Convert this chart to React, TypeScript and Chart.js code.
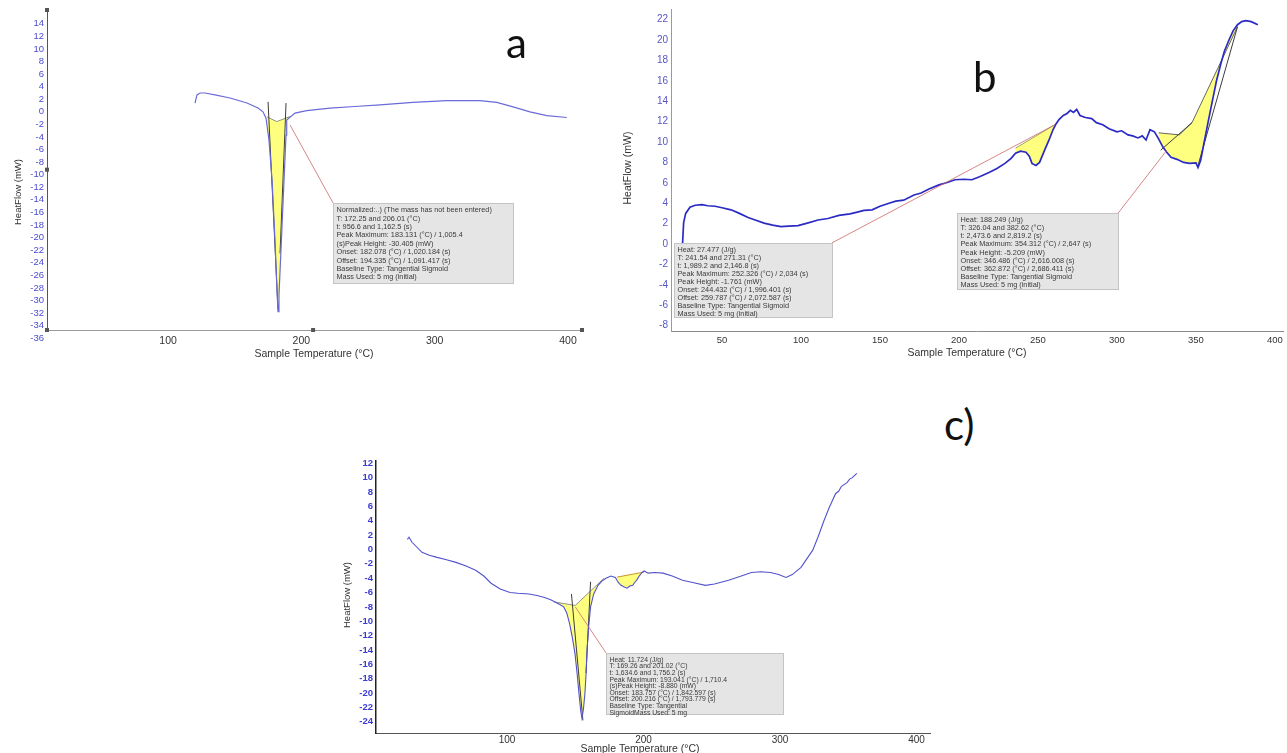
import React, { useEffect, useRef } from "react";
import { Chart, registerables } from "chart.js";

Chart.register(...registerables);

const SANS = "'Liberation Sans', Arial, sans-serif";
type Pt = [number, number];

/* ---------- a: single sharp melting endotherm ---------- */
const aTemp = [120.2, 121.7, 124, 127.7, 135.2, 146.5, 159.2, 167.5, 171.2, 173.5, 175.7, 178, 180.2, 181.7, 182.5, 183.2, 184.7, 187, 188.5, 189, 195.2, 204, 221.5, 240, 259, 283.8, 309, 334, 346.6, 358.8, 371.5, 384.1, 399.1];
const aFlow = [1.4, 2.7, 3.0, 3.0, 2.7, 2.2, 1.4, 0.6, 0.0, -1.0, -4.5, -10.8, -20.4, -28.4, -31.8, -29.2, -22.0, -10.8, -3.7, -1.3, -0.2, 0.2, 0.6, 0.85, 1.1, 1.5, 1.8, 1.8, 1.5, 0.8, 0.0, -0.6, -0.9];
const aPeakBase: Pt[] = [[174.3, -0.8], [181.5, -1.55], [191.5, -0.75]];
const aTangents: Pt[][] = [
  [[175, 1.6], [182.5, -31.5]],
  [[188.5, 1.4], [184, -22.5]],
];
const aXTicks = [100, 200, 300, 400];
const aYTicks = [14, 12, 10, 8, 6, 4, 2, 0, -2, -4, -6, -8, -10, -12, -14, -16, -18, -20, -22, -24, -26, -28, -30, -32, -34, -36];
const aNote = [
  "Normalized:..) (The mass has not been entered)",
  "T: 172.25 and 206.01 (°C)",
  "t: 956.6 and 1,162.5 (s)",
  "Peak Maximum: 183.131 (°C) / 1,005.4",
  "(s)Peak Height: -30.405 (mW)",
  "Onset: 182.078 (°C) / 1,020.184 (s)",
  "Offset: 194.335 (°C) / 1,091.417 (s)",
  "Baseline Type: Tangential Sigmoid",
  "Mass Used: 5 mg (initial)",
];

/* ---------- b: two events, 241-271 and 326-383 °C ---------- */
const bTemp = [25, 25.7, 27, 29.7, 33, 37.3, 41, 45.6, 50, 55.7, 61, 66.5, 71, 76.6, 82, 87.3, 92, 98.1, 104, 110.8, 117, 124, 131, 135, 139.9, 145, 150, 155.7, 160, 165, 171.5, 176, 181, 187.3, 192, 197.5, 203, 208.2, 213, 219, 224, 229.1, 233, 235.8, 239, 242.4, 244.5, 246.2, 248.7, 251, 254.2, 257, 259.5, 261.5, 263.3, 266, 268.4, 270.5, 272.5, 274.5, 276.6, 280, 284, 287, 291, 295, 300, 303, 307, 310, 313.3, 316, 318.4, 320.9, 323.7, 326, 329.1, 331.5, 334.2, 338, 342.2, 346, 350, 351.3, 353, 355.1, 357.5, 360.5, 363, 365.8, 368, 370.9, 373.5, 376.3, 379, 381.6, 385, 389.2];
const bFlow = [0, 2.1, 3.0, 3.6, 3.8, 3.85, 3.75, 3.7, 3.55, 3.35, 3.0, 2.6, 2.35, 2.05, 1.85, 1.7, 1.75, 1.8, 2.05, 2.35, 2.5, 2.8, 2.95, 3.1, 3.3, 3.35, 3.7, 4.0, 4.2, 4.3, 4.8, 5.0, 5.4, 5.8, 6.0, 6.3, 6.35, 6.3, 6.6, 7.0, 7.4, 7.9, 8.4, 8.9, 9.1, 9.0, 8.6, 7.9, 7.7, 8.0, 9.2, 10.2, 11.2, 11.8, 12.2, 12.6, 12.8, 13.1, 12.9, 13.2, 12.6, 12.4, 12.3, 11.9, 11.7, 11.3, 11.0, 11.1, 10.7, 10.6, 10.4, 10.6, 10.2, 11.2, 11.0, 10.4, 9.5, 9.0, 8.5, 8.3, 8.0, 7.9, 7.95, 7.5, 8.2, 9.9, 11.8, 14.1, 16.0, 17.7, 18.9, 20.0, 20.9, 21.5, 21.8, 21.9, 21.8, 21.5];
const bFirstBase: Pt[] = [[235.8, 9.4], [260.8, 11.7]];
const bSecondBase: Pt[] = [[326.4, 10.9], [339.5, 10.7], [347.5, 11.9], [376.3, 21.3]];
const bTangents: Pt[][] = [
  [[327.7, 9.2], [347.5, 11.9]],
  [[351.3, 7.7], [376.3, 21.3]],
];
const bXTicks = [50, 100, 150, 200, 250, 300, 350, 400];
const bYTicks = [22, 20, 18, 16, 14, 12, 10, 8, 6, 4, 2, 0, -2, -4, -6, -8];
const bNoteFirst = [
  "Heat: 27.477 (J/g)",
  "T: 241.54 and 271.31 (°C)",
  "t: 1,989.2 and 2,146.8 (s)",
  "Peak Maximum: 252.326 (°C) / 2,034 (s)",
  "Peak Height: -1.761 (mW)",
  "Onset: 244.432 (°C) / 1,996.401 (s)",
  "Offset: 259.787 (°C) / 2,072.587 (s)",
  "Baseline Type: Tangential Sigmoid",
  "Mass Used: 5 mg (initial)",
];
const bNoteSecond = [
  "Heat: 188.249 (J/g)",
  "T: 326.04 and 382.62 (°C)",
  "t: 2,473.6 and 2,819.2 (s)",
  "Peak Maximum: 354.312 (°C) / 2,647 (s)",
  "Peak Height: -5.209 (mW)",
  "Onset: 346.486 (°C) / 2,616.008 (s)",
  "Offset: 362.872 (°C) / 2,686.411 (s)",
  "Baseline Type: Tangential Sigmoid",
  "Mass Used: 5 mg (initial)",
];

/* ---------- c: endotherm near 155 °C, rise above 315 °C ---------- */
const cTemp = [27, 28.2, 30.4, 37.7, 43, 48.7, 55, 62.6, 70, 77, 83, 88.3, 95, 102.2, 108, 116.1, 122, 127.5, 132, 135.9, 139, 141.5, 143.7, 145.8, 147.8, 149.8, 151.3, 152.7, 154, 154.9, 156, 157.1, 158, 158.6, 159.8, 161.2, 163.5, 166.7, 169.5, 172.5, 176, 179.4, 181.5, 183.5, 185.5, 187.9, 190, 192.1, 193.5, 194.9, 196.5, 198.9, 200.5, 203.3, 208, 214.3, 221, 228.6, 236, 245.4, 252, 262.3, 270, 279.1, 286, 293.1, 299, 304.4, 309, 315.4, 320, 324, 328, 332.2, 336, 340.8, 343, 345, 349.1, 351, 353, 356.3];
const cFlow = [1.4, 1.7, 1.0, -0.4, -0.8, -1.1, -1.4, -1.8, -2.3, -2.9, -3.7, -4.7, -5.5, -6.0, -6.1, -6.2, -6.4, -6.7, -7.0, -7.4, -7.7, -8.0, -8.8, -10.3, -12.2, -14.5, -17.2, -20, -22.5, -23.5, -22.2, -20, -17, -14, -10.8, -8, -6.2, -5.0, -4.4, -4.0, -3.7, -3.9, -4.6, -5.0, -5.2, -5.4, -5.1, -5.0, -4.6, -4.3, -3.8, -3.2, -3.0, -3.3, -3.2, -3.3, -3.7, -4.3, -4.6, -5.0, -4.8, -4.3, -3.8, -3.2, -3.1, -3.2, -3.5, -3.9, -3.5, -2.5, -1.2, -0.1, 1.8, 4.0, 5.8, 7.8, 8.1, 8.8, 9.3, 9.8, 10.0, 10.6];
const cPeakBase: Pt[] = [[134.4, -7.3], [150, -7.8], [171.1, -4.0]];
const cSmallBase: Pt[] = [[180.6, -3.85], [200.5, -3.15]];
const cTangents: Pt[][] = [
  [[147.2, -6.2], [155.6, -23.8]],
  [[161.2, -4.5], [157.9, -17.2]],
];
const cXTicks = [100, 200, 300, 400];
const cYTicks = [12, 10, 8, 6, 4, 2, 0, -2, -4, -6, -8, -10, -12, -14, -16, -18, -20, -22, -24];
const cNote = [
  "Heat: 11.724 (J/g)",
  "T: 169.26 and 201.02 (°C)",
  "t: 1,634.6 and 1,756.2 (s)",
  "Peak Maximum: 193.041 (°C) / 1,710.4",
  "(s)Peak Height: -8.880 (mW)",
  "Onset: 183.757 (°C) / 1,842.597 (s)",
  "Offset: 200.216 (°C) / 1,793.779 (s)",
  "Baseline Type: Tangential",
  "SigmoidMass Used: 5 mg",
];

/* ---------- drawing helpers ---------- */
type Region = { base: Pt[]; fill: string; edge: string; edgeWidth: number };
type Note = { at: Pt; w: number; h: number; lines: string[]; size: number; lh: number };
type Leader = { from: Pt; to: Pt };
type Title = { text: string; x: number; y: number; size: number; rotate?: boolean };

type PanelCfg = {
  temp: number[];
  flow: number[];
  color: string;
  lineWidth: number;
  tangents: Pt[][];
  regions: Region[];
  notes: Note[];
  leaders: Leader[];
  handles: Pt[];
  xTitle: Title;
  yTitle: Title;
  xMin: number; xMax: number; yMin: number; yMax: number;
  xTicks: number[]; yTicks: number[];
  yWidth: number; xHeight: number;
  padding: { top: number; right: number; bottom: number; left: number };
  yTickColor: string; yTickSize: number; yTickWeight: string;
  xTickSize: number; xTickPad: number;
  yBorder: string; xBorder: string; yBorderWidth: number;
  left: number; top: number; width: number; height: number;
};

function curveAt(temp: number[], flow: number[], t: number) {
  for (let i = 1; i < temp.length; i++) {
    const a = temp[i - 1], b = temp[i];
    if (a <= t && t <= b) {
      const f = b === a ? 0 : (t - a) / (b - a);
      return flow[i - 1] + f * (flow[i] - flow[i - 1]);
    }
  }
  return flow[flow.length - 1];
}

function makeDecor(p: PanelCfg) {
  return {
    id: "dscDecor",
    beforeDatasetsDraw(chart: any) {
      const { ctx, chartArea: ca } = chart;
      const xs = chart.scales.x, ys = chart.scales.y;
      const px = (t: number) => xs.getPixelForValue(t);
      const py = (v: number) => ys.getPixelForValue(v);
      ctx.save();
      ctx.beginPath();
      ctx.rect(ca.left, ca.top, ca.right - ca.left, ca.bottom - ca.top);
      ctx.clip();
      for (const r of p.regions) {
        const t0 = r.base[0][0];
        const t1 = r.base[r.base.length - 1][0];
        ctx.beginPath();
        ctx.moveTo(px(t0), py(curveAt(p.temp, p.flow, t0)));
        p.temp.forEach((t, i) => {
          if (t > t0 && t < t1) ctx.lineTo(px(t), py(p.flow[i]));
        });
        ctx.lineTo(px(t1), py(curveAt(p.temp, p.flow, t1)));
        for (let i = r.base.length - 1; i >= 0; i--) ctx.lineTo(px(r.base[i][0]), py(r.base[i][1]));
        ctx.closePath();
        ctx.fillStyle = r.fill;
        ctx.fill();
        ctx.beginPath();
        r.base.forEach(([t, v], i) => (i ? ctx.lineTo(px(t), py(v)) : ctx.moveTo(px(t), py(v))));
        ctx.strokeStyle = r.edge;
        ctx.lineWidth = r.edgeWidth;
        ctx.stroke();
      }
      ctx.restore();
    },
    afterDraw(chart: any) {
      const { ctx } = chart;
      const xs = chart.scales.x, ys = chart.scales.y;
      const px = (t: number) => xs.getPixelForValue(t);
      const py = (v: number) => ys.getPixelForValue(v);
      ctx.save();
      // leader lines from the peaks to their result boxes
      ctx.strokeStyle = "rgba(205,105,105,0.9)";
      ctx.lineWidth = 0.9;
      for (const l of p.leaders) {
        ctx.beginPath();
        ctx.moveTo(px(l.from[0]), py(l.from[1]));
        ctx.lineTo(px(l.to[0]), py(l.to[1]));
        ctx.stroke();
      }
      // result boxes
      for (const n of p.notes) {
        const x0 = Math.round(px(n.at[0])) + 0.5;
        const y0 = Math.round(py(n.at[1])) + 0.5;
        ctx.fillStyle = "#e5e5e5";
        ctx.fillRect(x0, y0, n.w, n.h);
        ctx.strokeStyle = "#c4c4c4";
        ctx.lineWidth = 1;
        ctx.strokeRect(x0, y0, n.w, n.h);
        ctx.fillStyle = "#3a3a3a";
        ctx.font = `${n.size}px ${SANS}`;
        ctx.textBaseline = "top";
        ctx.textAlign = "left";
        n.lines.forEach((s, i) => ctx.fillText(s, x0 + 3, y0 + 3 + i * n.lh));
      }
      // axis handles
      ctx.fillStyle = "#555";
      for (const h of p.handles) ctx.fillRect(px(h[0]) - 2, py(h[1]) - 2, 4, 4);
      // axis titles
      for (const t of [p.xTitle, p.yTitle]) {
        ctx.save();
        ctx.fillStyle = "#333";
        ctx.font = `${t.size}px ${SANS}`;
        ctx.textAlign = "center";
        ctx.textBaseline = "middle";
        ctx.translate(t.x, t.y);
        if (t.rotate) ctx.rotate(-Math.PI / 2);
        ctx.fillText(t.text, 0, 0);
        ctx.restore();
      }
      ctx.restore();
    },
  };
}

function buildConfig(p: PanelCfg): any {
  const pts = (arr: Pt[]) => arr.map(([x, y]) => ({ x, y }));
  return {
    type: "line",
    data: {
      datasets: [
        {
          data: p.temp.map((t, i) => ({ x: t, y: p.flow[i] })),
          borderColor: p.color,
          borderWidth: p.lineWidth,
          pointRadius: 0,
          fill: false,
          tension: 0,
        },
        ...p.tangents.map((seg) => ({
          data: pts(seg),
          borderColor: "#3c3c3c",
          borderWidth: 1,
          pointRadius: 0,
          fill: false,
          tension: 0,
        })),
      ],
    },
    options: {
      responsive: false,
      animation: false,
      devicePixelRatio: 1,
      layout: { padding: p.padding },
      plugins: { legend: { display: false }, tooltip: { enabled: false } },
      scales: {
        x: {
          type: "linear",
          min: p.xMin,
          max: p.xMax,
          afterFit: (s: any) => {
            s.height = p.xHeight;
          },
          afterBuildTicks: (s: any) => {
            s.ticks = p.xTicks.map((value) => ({ value }));
          },
          ticks: {
            autoSkip: false,
            maxRotation: 0,
            color: "#333",
            padding: p.xTickPad,
            font: { family: SANS, size: p.xTickSize },
          },
          grid: { display: false, drawTicks: false },
          border: { display: true, color: p.xBorder, width: 1 },
        },
        y: {
          type: "linear",
          min: p.yMin,
          max: p.yMax,
          afterFit: (s: any) => {
            s.width = p.yWidth;
          },
          afterBuildTicks: (s: any) => {
            s.ticks = p.yTicks.map((value) => ({ value }));
          },
          ticks: {
            autoSkip: false,
            color: p.yTickColor,
            padding: 3,
            font: { family: SANS, size: p.yTickSize, weight: p.yTickWeight },
          },
          grid: { display: false, drawTicks: false },
          border: { display: true, color: p.yBorder, width: p.yBorderWidth },
        },
      },
    },
    plugins: [makeDecor(p)],
  };
}

const YELLOW = "rgba(255,255,120,0.95)";

const panelA: PanelCfg = {
  temp: aTemp,
  flow: aFlow,
  color: "#6a6ad8",
  lineWidth: 1.2,
  tangents: aTangents,
  regions: [{ base: aPeakBase, fill: YELLOW, edge: "#777", edgeWidth: 0.8 }],
  notes: [{ at: [223.8, -14.5], w: 180, h: 80, lines: aNote, size: 7.3, lh: 8.4 }],
  leaders: [{ from: [191.5, -2.1], to: [223.8, -14.5] }],
  handles: [[9.2, 16.2], [9.2, -9.2], [9.2, -34.7], [208.8, -34.7], [410.5, -34.7]],
  xTitle: { text: "Sample Temperature (°C)", x: 314, y: 354, size: 10.5 },
  yTitle: { text: "HeatFlow (mW)", x: 18, y: 192, size: 9.5, rotate: true },
  xMin: 9.2, xMax: 410.5, yMin: -34.7, yMax: 16.2,
  xTicks: aXTicks, yTicks: aYTicks,
  yWidth: 47, xHeight: 35,
  padding: { top: 10, right: 38, bottom: 0, left: 0 },
  yTickColor: "#4a4ad4", yTickSize: 9.5, yTickWeight: "normal",
  xTickSize: 10.5, xTickPad: 5,
  yBorder: "#555", xBorder: "#9a9a9a", yBorderWidth: 1,
  left: 0, top: 0, width: 620, height: 365,
};

const panelB: PanelCfg = {
  temp: bTemp,
  flow: bFlow,
  color: "#2b2bc4",
  lineWidth: 1.7,
  tangents: bTangents,
  regions: [
    { base: bFirstBase, fill: YELLOW, edge: "#8a8a50", edgeWidth: 0.8 },
    { base: bSecondBase, fill: YELLOW, edge: "#555", edgeWidth: 0.9 },
  ],
  notes: [
    { at: [19.5, 0.1], w: 158, h: 74, lines: bNoteFirst, size: 7.3, lh: 8 },
    { at: [198.7, 3.0], w: 161, h: 76, lines: bNoteSecond, size: 7.3, lh: 8.1 },
  ],
  leaders: [
    { from: [119.5, 0.1], to: [260.8, 11.7] },
    { from: [300.6, 3.0], to: [331.6, 9.2] },
  ],
  handles: [],
  xTitle: { text: "Sample Temperature (°C)", x: 355, y: 353, size: 10.5 },
  yTitle: { text: "HeatFlow (mW)", x: 16, y: 168, size: 10.5, rotate: true },
  xMin: 17.7, xMax: 405.1, yMin: -8.53, yMax: 23.04,
  xTicks: bXTicks, yTicks: bYTicks,
  yWidth: 59, xHeight: 34,
  padding: { top: 9, right: 4, bottom: 0, left: 0 },
  yTickColor: "#5656c6", yTickSize: 10, yTickWeight: "normal",
  xTickSize: 9.5, xTickPad: 4,
  yBorder: "#9a9a9a", xBorder: "#8a8a8a", yBorderWidth: 1,
  left: 612, top: 0, width: 675, height: 365,
};

const panelC: PanelCfg = {
  temp: cTemp,
  flow: cFlow,
  color: "#5252cc",
  lineWidth: 1.1,
  tangents: cTangents,
  regions: [
    { base: cPeakBase, fill: YELLOW, edge: "#777", edgeWidth: 0.8 },
    { base: cSmallBase, fill: YELLOW, edge: "#c8922e", edgeWidth: 1 },
  ],
  notes: [{ at: [172.5, -14.4], w: 177, h: 61, lines: cNote, size: 6.8, lh: 6.6 }],
  leaders: [{ from: [150, -8.0], to: [172.5, -14.4] }],
  handles: [],
  xTitle: { text: "Sample Temperature (°C)", x: 310, y: 297, size: 10.5 },
  yTitle: { text: "HeatFlow (mW)", x: 17, y: 143, size: 9.5, rotate: true },
  xMin: 4.0, xMax: 409.9, yMin: -25.56, yMax: 12.36,
  xTicks: cXTicks, yTicks: cYTicks,
  yWidth: 46, xHeight: 20,
  padding: { top: 8, right: 10, bottom: 0, left: 0 },
  yTickColor: "#3c3cd0", yTickSize: 9.5, yTickWeight: "bold",
  xTickSize: 10, xTickPad: 1,
  yBorder: "#222", xBorder: "#555", yBorderWidth: 1.5,
  left: 330, top: 452, width: 610, height: 301,
};

function Panel({ cfg }: { cfg: PanelCfg }) {
  const ref = useRef<HTMLCanvasElement>(null);
  useEffect(() => {
    const chart = new Chart(ref.current as HTMLCanvasElement, buildConfig(cfg));
    return () => chart.destroy();
  }, [cfg]);
  return (
    <canvas
      ref={ref}
      width={cfg.width}
      height={cfg.height}
      style={{ position: "absolute", left: cfg.left, top: cfg.top, width: cfg.width, height: cfg.height }}
    />
  );
}

const letterStyle: React.CSSProperties = {
  position: "absolute",
  fontFamily: "Lato, 'Open Sans', sans-serif",
  fontSize: 42,
  lineHeight: 1,
  color: "#111",
};

export default function App() {
  return (
    <div
      style={{
        position: "absolute",
        left: 0,
        top: 0,
        width: 1287,
        height: 753,
        overflow: "hidden",
        background: "#fff",
      }}
    >
      <Panel cfg={panelA} />
      <Panel cfg={panelB} />
      <Panel cfg={panelC} />
      <div style={{ ...letterStyle, left: 506, top: 21 }}>a</div>
      <div style={{ ...letterStyle, left: 973, top: 55 }}>b</div>
      <div style={{ ...letterStyle, left: 944, top: 403 }}>c)</div>
    </div>
  );
}
